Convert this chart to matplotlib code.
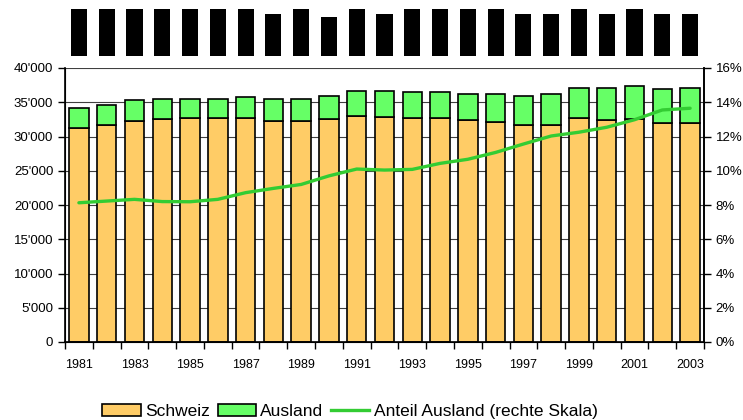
import numpy as np
import matplotlib.pyplot as plt
from matplotlib.ticker import FuncFormatter
from matplotlib.patches import Patch
from matplotlib.lines import Line2D

plt.rcParams["font.family"] = ["Liberation Sans", "DejaVu Sans"]

years = list(range(1981, 2004))
schweiz = [31300, 31700, 32200, 32500, 32750, 32750, 32750, 32300, 32300, 32500,
           32950, 32900, 32750, 32750, 32350, 32150, 31750, 31750, 32650, 32450,
           32500, 32000, 32000]
total = [34100, 34550, 35300, 35500, 35500, 35500, 35750, 35500, 35500, 35950,
         36700, 36700, 36450, 36450, 36150, 36150, 35950, 36150, 37150, 37150,
         37400, 36900, 37150]
ausland = [t - s for t, s in zip(total, schweiz)]
anteil = [8.13, 8.23, 8.33, 8.2, 8.19, 8.33, 8.72, 8.97, 9.2, 9.7,
          10.1, 10.04, 10.08, 10.43, 10.67, 11.07, 11.56, 12.03, 12.25, 12.54,
          12.98, 13.55, 13.65]

# heights of the black boxes above each year (relative)
box_heights = [1, 1, 1, 1, 1, 1, 1, 0.893, 1, 0.829, 1, 0.893,
               1, 1, 1, 1, 0.893, 0.893, 1, 0.893, 1, 0.893, 0.893]

x = np.arange(len(years))

fig = plt.figure(figsize=(7.43, 4.2), dpi=100)
ax = fig.add_axes([65/743, 78/420, 639/743, 274/420])

ax.bar(x, schweiz, width=0.7, color="#FFCC66", edgecolor="black", linewidth=1.2,
       zorder=2, label="Schweiz")
ax.bar(x, ausland, width=0.7, bottom=schweiz, color="#66FF66", edgecolor="black",
       linewidth=1.2, zorder=2, label="Ausland")

ax.set_xlim(-0.5, len(years) - 0.5)
ax.set_ylim(0, 40000)
ax.set_yticks(np.arange(0, 40001, 5000))
ax.yaxis.set_major_formatter(FuncFormatter(lambda v, p: f"{int(v):,}".replace(",", "'")))
ax.grid(axis="y", color="#404040", linewidth=0.8, zorder=0)
ax.set_axisbelow(True)

ax.set_xticks(x[::2])
ax.set_xticklabels([str(y) for y in years[::2]])
ax.set_xticks(np.arange(-0.5, len(years)), minor=True)
ax.tick_params(axis="x", which="major", length=0, pad=12, labelsize=9)
ax.tick_params(axis="x", which="minor", length=5, width=1, color="black")
ax.tick_params(axis="y", length=5, width=1, labelsize=9.5)
ax.spines["top"].set_visible(False)
for s in ["left", "bottom", "right"]:
    ax.spines[s].set_linewidth(1.2)

ax2 = ax.twinx()
ax2.plot(x, anteil, color="#33CC33", linewidth=2.4, solid_capstyle="round", zorder=3)
ax2.set_ylim(0, 16)
ax2.set_yticks(np.arange(0, 17, 2))
ax2.yaxis.set_major_formatter(FuncFormatter(lambda v, p: f"{int(v)}%"))
ax2.tick_params(axis="y", length=5, width=1, labelsize=9.5)
ax2.spines["top"].set_visible(False)
ax2.spines["right"].set_linewidth(1.2)

# black boxes above the bars
axt = fig.add_axes([65/743, (420 - 55.7)/420, 639/743, 46.7/420], sharex=ax)
axt.bar(x, box_heights, width=0.58, color="black")
axt.set_ylim(0, 1)
axt.axis("off")

handles = [Patch(facecolor="#FFCC66", edgecolor="black", linewidth=1.2, label="Schweiz"),
           Patch(facecolor="#66FF66", edgecolor="black", linewidth=1.2, label="Ausland"),
           Line2D([], [], color="#33CC33", linewidth=2.4, label="Anteil Ausland (rechte Skala)")]
fig.legend(handles=handles, loc="center", bbox_to_anchor=(350/743, 1 - 411.5/420), ncol=3,
           frameon=False, fontsize=12.5, handlelength=2.2, handleheight=0.7,
           handletextpad=0.25, columnspacing=0.45, borderpad=0.1)

fig.savefig("out.png", dpi=100)
